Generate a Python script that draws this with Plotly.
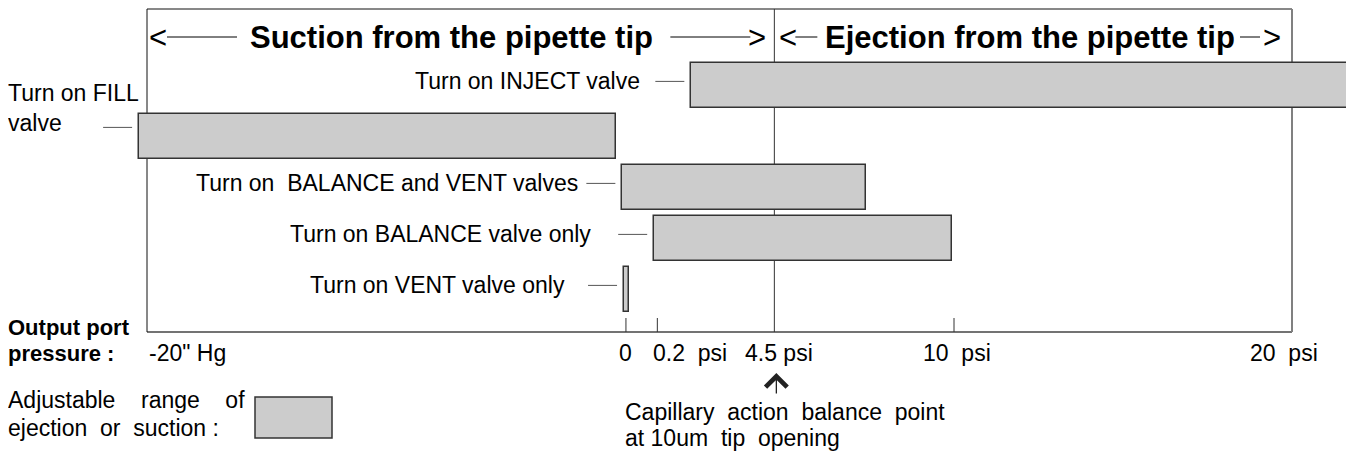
import numpy as np
import plotly.graph_objects as go

# output port pressure: negative = inches Hg vacuum, positive = psi
tick_values = [-20, 0, 0.2, 4.5, 10, 20]
tick_labels = ['-20" Hg', "0", "0.2\u00a0 psi", "4.5 psi", "10\u00a0 psi", "20\u00a0 psi"]
# where each tick sits on the drawn (non-linear) scale, 0..100
tick_scale = [0, 41.83, 44.57, 54.79, 70.48, 100]
minor_ticks = [0, 0.2, 10]

valves = ["Turn on INJECT valve",
          "Turn on FILL<br>valve",
          "Turn on\u00a0 BALANCE and VENT valves",
          "Turn on BALANCE valve only",
          "Turn on VENT valve only"]
range_low = [1.45, -20.33, -0.15, 0.18, -0.08]
range_high = [21.7, -0.40, 7.3, 9.95, 0.02]

regions = ["Suction from the pipette tip", "Ejection from the pipette tip"]
region_from = [-20, 4.5]
region_to = [4.5, 20]
balance_point = 4.5

W, H = 1354, 452
OFF = 8            # page body margin the figure sits in
FONT = "Arial, 'Liberation Sans', sans-serif"
BAR_FILL = "#cccccc"
EDGE = "#333333"


def to_scale(p):
    """pressure -> position on the drawn scale (piecewise linear)"""
    p = np.asarray(p, dtype=float)
    s = np.interp(p, tick_values, tick_scale)
    lo_k = (tick_scale[1] - tick_scale[0]) / (tick_values[1] - tick_values[0])
    hi_k = (tick_scale[-1] - tick_scale[-2]) / (tick_values[-1] - tick_values[-2])
    s = np.where(p < tick_values[0], tick_scale[0] + (p - tick_values[0]) * lo_k, s)
    s = np.where(p > tick_values[-1], tick_scale[-1] + (p - tick_values[-1]) * hi_k, s)
    return s


def py(px):
    return 1 - (px - OFF) / H


def pxx(px):
    return (px - OFF) / W


lo = to_scale(range_low)
hi = to_scale(range_high)
rows = list(range(len(valves)))
x_left, x_right, x_bal = (float(v) for v in to_scale([tick_values[0], tick_values[-1], balance_point]))

fig = go.Figure()
fig.add_trace(go.Bar(
    y=rows, x=hi - lo, base=lo, orientation="h", width=0.88,
    marker=dict(color=BAR_FILL, line=dict(color=EDGE, width=1.5)),
    hoverinfo="skip", showlegend=False,
))

shapes = []
frame_top, frame_bot = py(9), py(332)
# frame
shapes.append(dict(type="line", xref="x", yref="paper", x0=x_left, x1=x_right,
                   y0=frame_top, y1=frame_top, line=dict(color="#111", width=1)))
shapes.append(dict(type="line", xref="x", yref="paper", x0=x_left, x1=x_right,
                   y0=frame_bot, y1=frame_bot, line=dict(color="#444", width=1.5)))
shapes.append(dict(type="line", xref="x", yref="paper", x0=x_left, x1=x_left,
                   y0=frame_top, y1=frame_bot, line=dict(color="#111", width=1)))
shapes.append(dict(type="line", xref="x", yref="paper", x0=x_right, x1=x_right,
                   y0=frame_top, y1=frame_bot, line=dict(color="#808080", width=2)))
shapes.append(dict(type="line", xref="x", yref="paper", x0=x_bal, x1=x_bal,
                   y0=frame_top, y1=frame_bot, line=dict(color="#333", width=1)))
for t in to_scale(minor_ticks):
    shapes.append(dict(type="line", xref="x", yref="paper", x0=float(t), x1=float(t),
                       y0=py(318), y1=frame_bot, line=dict(color="#333", width=1)))
for s in shapes:
    s["layer"] = "below"

annotations = []

# valve labels with leader dashes
label_gap = [49, 0, 42, 61, 57]
for r, name in enumerate(valves):
    x0 = float(lo[r])
    two_line = "<br>" in name
    lift = 9 if two_line else 4
    shapes.append(dict(type="line", xref="x", yref="y", xsizemode="pixel", ysizemode="pixel",
                       xanchor=x0, yanchor=r, x0=-36, x1=-7, y0=lift, y1=lift,
                       line=dict(color="#555", width=1)))
    if two_line:
        annotations.append(dict(text=name, xref="paper", yref="y", x=pxx(6), y=r, yshift=28,
                                xanchor="left", yanchor="middle", align="left", showarrow=False,
                                font=dict(size=23, color="black")))
    else:
        annotations.append(dict(text=name, xref="x", yref="y", x=x0, y=r, xshift=-label_gap[r],
                                yshift=lift, xanchor="right", yanchor="middle", showarrow=False,
                                font=dict(size=23, color="black")))

# region headers with arrows
title_shift = [-9, -3]
arrow_in = [(20, 90), (21, 43)]
arrow_out = [(-104, -24), (-52, -32)]
lt_shift = [0, 3]
gt_shift = [-6, -9]
title_y = py(38)
for i, reg in enumerate(regions):
    a, b = (float(v) for v in to_scale([region_from[i], region_to[i]]))
    annotations.append(dict(text=f"<b>{reg}</b>", xref="x", yref="paper", x=(a + b) / 2,
                            xshift=title_shift[i], y=title_y, xanchor="center", yanchor="middle",
                            showarrow=False, font=dict(size=31, color="black")))
    annotations.append(dict(text="<", xref="x", yref="paper", x=a, xshift=lt_shift[i], y=title_y,
                            xanchor="left", yanchor="middle", showarrow=False,
                            font=dict(size=31, color="black")))
    annotations.append(dict(text=">", xref="x", yref="paper", x=b, xshift=gt_shift[i], y=title_y,
                            xanchor="right", yanchor="middle", showarrow=False,
                            font=dict(size=31, color="black")))
    shapes.append(dict(type="line", xref="x", yref="paper", xsizemode="pixel", xanchor=a,
                       x0=arrow_in[i][0], x1=arrow_in[i][1], y0=py(37), y1=py(37),
                       line=dict(color="black", width=1)))
    shapes.append(dict(type="line", xref="x", yref="paper", xsizemode="pixel", xanchor=b,
                       x0=arrow_out[i][0], x1=arrow_out[i][1], y0=py(37), y1=py(37),
                       line=dict(color="black", width=1)))

# tick labels
tick_anchor = ["left", "center", "left", "center", "center", "center"]
tick_shift = [0, 0, -6, 5, 3, -8]
for v, lab, anc, sh in zip(tick_values, tick_labels, tick_anchor, tick_shift):
    annotations.append(dict(text=lab, xref="x", yref="paper", x=float(to_scale(v)), xshift=sh,
                            y=py(353), xanchor=anc, yanchor="middle", showarrow=False,
                            font=dict(size=23, color="black")))

# left-side captions
for txt, yy in [("<b>Output port</b>", 327), ("<b>pressure :</b>", 353)]:
    annotations.append(dict(text=txt, xref="paper", yref="paper", x=pxx(6), y=py(yy),
                            xanchor="left", yanchor="middle", showarrow=False,
                            font=dict(size=22, color="black")))
for txt, yy in [("Adjustable\u00a0\u00a0\u00a0 range\u00a0\u00a0\u00a0 of", 400),
                ("ejection\u00a0 or\u00a0 suction :", 428)]:
    annotations.append(dict(text=txt, xref="paper", yref="paper", x=pxx(6), y=py(yy),
                            xanchor="left", yanchor="middle", showarrow=False,
                            font=dict(size=23, color="black")))
# legend swatch
shapes.append(dict(type="rect", xref="paper", yref="paper", x0=pxx(255), x1=pxx(332),
                   y0=py(438), y1=py(397), fillcolor=BAR_FILL, line=dict(color=EDGE, width=1.5)))

# capillary balance point note
annotations.append(dict(text="", xref="x", yref="paper", x=x_bal, xshift=2, y=py(373), ax=0, ay=22,
                        showarrow=True, arrowhead=4, arrowsize=3.2, arrowwidth=1.3, arrowcolor="#222"))
for txt, yy in [("Capillary\u00a0 action\u00a0 balance\u00a0 point", 412),
                ("at 10um\u00a0 tip\u00a0 opening", 438)]:
    annotations.append(dict(text=txt, xref="paper", yref="paper", x=pxx(623), y=py(yy),
                            xanchor="left", yanchor="middle", showarrow=False,
                            font=dict(size=23, color="black")))

# axis ranges chosen so -20"Hg sits at px 147 and 20 psi at px 1292, row 0 at px 85.4
fig.update_layout(
    width=W, height=H,
    margin=dict(l=0, r=0, t=0, b=0),
    paper_bgcolor="white", plot_bgcolor="white",
    font=dict(family=FONT, color="black"),
    xaxis=dict(range=[(OFF - 147) / 11.45, (W + OFF - 147) / 11.45], visible=False, fixedrange=True),
    yaxis=dict(range=[(H + OFF - 85.4) / 51, (OFF - 85.4) / 51], visible=False, fixedrange=True),
    shapes=shapes, annotations=annotations,
    showlegend=False, bargap=0,
)
fig.write_html("out.html")
